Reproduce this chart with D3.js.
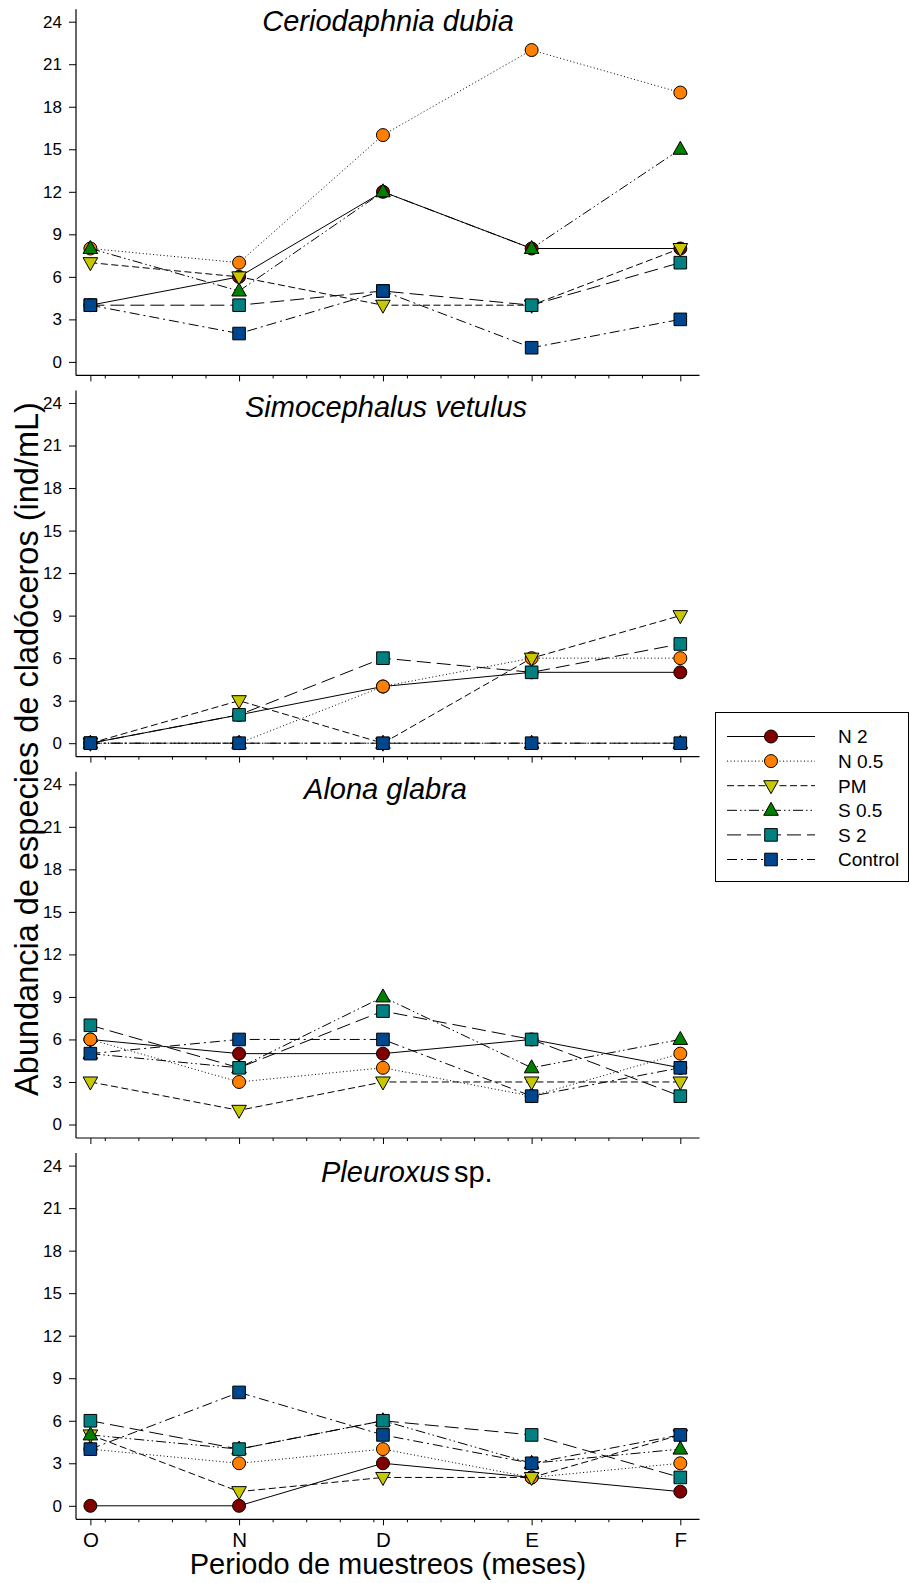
<!DOCTYPE html>
<html>
<head>
<meta charset="utf-8">
<script src="https://cdn.jsdelivr.net/npm/d3@7"></script>
<style>
  html, body { margin: 0; padding: 0; background: #fff; }
  svg { display: block; font-family: Arial, "Liberation Sans", sans-serif; }
</style>
</head>
<body>
<svg id="chart" width="910" height="1583"></svg>
<script>
// Sampling months (labels) and their sampling dates
const monthLabels = ["O", "N", "D", "E", "F"];
const sampleDates = ["2012-10-01", "2012-11-01", "2012-12-01", "2013-01-01", "2013-02-01"];
const yTickValues = [0, 3, 6, 9, 12, 15, 18, 21, 24];

// Treatments, in drawing order
const treatments = ["N 2", "N 0.5", "PM", "S 0.5", "S 2", "Control"];

// Abundance (ind/mL) per treatment, rows follow `treatments`
const ceriodaphniaDubia = [
  [4, 6, 12, 8, 8],
  [8, 7, 16, 22, 19],
  [7, 6, 4, 4, 8],
  [8, 5, 12, 8, 15],
  [4, 4, 5, 4, 7],
  [4, 2, 5, 1, 3]
];
const simocephalusVetulus = [
  [0, 2, 4, 5, 5],
  [0, 0, 4, 6, 6],
  [0, 3, 0, 6, 9],
  [0, 0, 0, 0, 0],
  [0, 2, 6, 5, 7],
  [0, 0, 0, 0, 0]
];
const alonaGlabra = [
  [6, 5, 5, 6, 4],
  [6, 3, 4, 2, 5],
  [3, 1, 3, 3, 3],
  [5, 4, 9, 4, 6],
  [7, 4, 8, 6, 2],
  [5, 6, 6, 2, 4]
];
const pleuroxusSp = [
  [0, 0, 3, 2, 1],
  [4, 3, 4, 2, 3],
  [5, 1, 2, 2, 5],
  [5, 4, 6, 3, 4],
  [6, 4, 6, 5, 2],
  [4, 8, 5, 3, 5]
];

// Panel titles: [italic part, upright part]
const panelTitles = [
  ["Ceriodaphnia dubia", ""],
  ["Simocephalus vetulus", ""],
  ["Alona glabra", ""],
  ["Pleuroxus", "sp."]
];
const panelData = [ceriodaphniaDubia, simocephalusVetulus, alonaGlabra, pleuroxusSp];

// ---- styling ----
const styles = [
  { fill: "#800000", shape: "circle",   dash: null },
  { fill: "#FF8000", shape: "circle",   dash: "1,2.5" },
  { fill: "#C8C800", shape: "triDown",  dash: "7,3.5" },
  { fill: "#008000", shape: "triUp",    dash: "10,3,1.5,3,1.5,3" },
  { fill: "#008080", shape: "square",   dash: "14,6" },
  { fill: "#00468C", shape: "square",   dash: "10,4,2,4" }
];
const FONT = "Arial, 'Liberation Sans', sans-serif";

const svg = d3.select("#chart");
const parseDate = d3.timeParse("%Y-%m-%d");
const dates = sampleDates.map(parseDate);

const xLeft = 76, xRight = 699.5;
const x = d3.scaleTime()
  .domain([d3.timeDay.offset(dates[0], -3), d3.timeDay.offset(dates[dates.length - 1], 4)])
  .range([xLeft, xRight]);

// weekly minor ticks
const minorTicks = d3.range(0, 20)
  .map(k => d3.timeDay.offset(dates[0], 3 + 7 * k))
  .filter(d => d < x.domain()[1] && !dates.some(m => Math.abs(m - d) < 864e5 * 2));

const panelTop = i => 21.7 + i * 381.3;   // y of value 24
const panelSpan = 340.2;
const titleDy = [9, 14, 14.3, 16.5];
const titleX = [388, 386, 385.5, 321];
const titleAnchor = ["middle", "middle", "middle", "start"];

function markerPath(shape) {
  const p = d3.path();
  if (shape === "circle") {
    p.arc(0, 0, 6.5, 0, 2 * Math.PI);
  } else if (shape === "square") {
    p.rect(-6.3, -6.3, 12.6, 12.6);
  } else if (shape === "triUp") {
    p.moveTo(0, -8); p.lineTo(7.3, 5); p.lineTo(-7.3, 5); p.closePath();
  } else {
    p.moveTo(0, 8); p.lineTo(7.3, -5); p.lineTo(-7.3, -5); p.closePath();
  }
  return p.toString();
}

panelData.forEach((rows, pi) => {
  const top = panelTop(pi);
  const y = d3.scaleLinear().domain([0, 24]).range([top + panelSpan, top]);
  const g = svg.append("g");
  const axisY = y(0) + 13.5;

  // y axis line and ticks
  g.append("line")
    .attr("x1", xLeft).attr("x2", xLeft)
    .attr("y1", top - 12.5).attr("y2", axisY)
    .attr("stroke", "#000").attr("stroke-width", 1.2);
  const ya = g.append("g").attr("transform", `translate(${xLeft},0)`)
    .call(d3.axisLeft(y).tickValues(yTickValues).tickSize(7).tickPadding(7));
  ya.select(".domain").remove();
  ya.selectAll("text").attr("font-size", 17).attr("font-family", FONT).attr("fill", "#000");
  ya.selectAll("line").attr("stroke", "#000");

  // x axis line, major and minor ticks
  g.append("line")
    .attr("x1", xLeft).attr("x2", xRight)
    .attr("y1", axisY).attr("y2", axisY)
    .attr("stroke", "#000").attr("stroke-width", 1.2);
  const isBottom = pi === panelData.length - 1;
  const xa = g.append("g").attr("transform", `translate(0,${axisY})`)
    .call(d3.axisBottom(x).tickValues(dates).tickSize(6).tickPadding(7)
      .tickFormat((d, i) => isBottom ? monthLabels[i] : ""));
  xa.select(".domain").remove();
  xa.selectAll("text").attr("font-size", 20.5).attr("font-family", FONT).attr("fill", "#000");
  xa.selectAll("line").attr("stroke", "#000");
  const xm = g.append("g").attr("transform", `translate(0,${axisY})`)
    .call(d3.axisBottom(x).tickValues(minorTicks).tickSize(3).tickFormat(""));
  xm.select(".domain").remove();
  xm.selectAll("line").attr("stroke", "#000");

  // panel title
  const t = g.append("text")
    .attr("x", titleX[pi]).attr("y", top + titleDy[pi])
    .attr("text-anchor", titleAnchor[pi])
    .attr("font-size", 29).attr("fill", "#000");
  t.append("tspan").attr("font-style", "italic").text(panelTitles[pi][0]);
  if (panelTitles[pi][1]) t.append("tspan").attr("dx", 4).text(panelTitles[pi][1]);

  // series: line then markers, in treatment order
  const line = d3.line().x((d, i) => x(dates[i])).y(d => y(d));
  rows.forEach((vals, si) => {
    const st = styles[si];
    g.append("path")
      .attr("d", line(vals))
      .attr("fill", "none")
      .attr("stroke", "#000")
      .attr("stroke-width", 1)
      .attr("stroke-dasharray", st.dash);
    g.selectAll(null).data(vals).enter().append("path")
      .attr("d", markerPath(st.shape))
      .attr("transform", (d, i) => `translate(${x(dates[i])},${y(d)})`)
      .attr("fill", st.fill)
      .attr("stroke", "#000")
      .attr("stroke-width", 1);
  });
});

// axis titles
svg.append("text")
  .attr("transform", "translate(38,749) rotate(-90)")
  .attr("text-anchor", "middle")
  .attr("font-size", 32.5)
  .attr("fill", "#000")
  .text("Abundancia de especies de cladóceros (ind/mL)");

svg.append("text")
  .attr("x", 388).attr("y", 1574)
  .attr("text-anchor", "middle")
  .attr("font-size", 29)
  .attr("fill", "#000")
  .text("Periodo de muestreos (meses)");

// legend
const lg = svg.append("g");
lg.append("rect")
  .attr("x", 715.5).attr("y", 712.5).attr("width", 193).attr("height", 169)
  .attr("fill", "#fff").attr("stroke", "#000").attr("stroke-width", 1);
treatments.forEach((name, si) => {
  const st = styles[si];
  const cy = 736.5 + si * 24.6;
  lg.append("line")
    .attr("x1", 727).attr("x2", 815).attr("y1", cy).attr("y2", cy)
    .attr("stroke", "#000").attr("stroke-width", 1)
    .attr("stroke-dasharray", st.dash);
  lg.append("path")
    .attr("d", markerPath(st.shape))
    .attr("transform", `translate(771,${cy})`)
    .attr("fill", st.fill).attr("stroke", "#000").attr("stroke-width", 1);
  lg.append("text")
    .attr("x", 838).attr("y", cy).attr("dy", "0.36em")
    .attr("font-size", 19).attr("fill", "#000")
    .text(name);
});
</script>
</body>
</html>
